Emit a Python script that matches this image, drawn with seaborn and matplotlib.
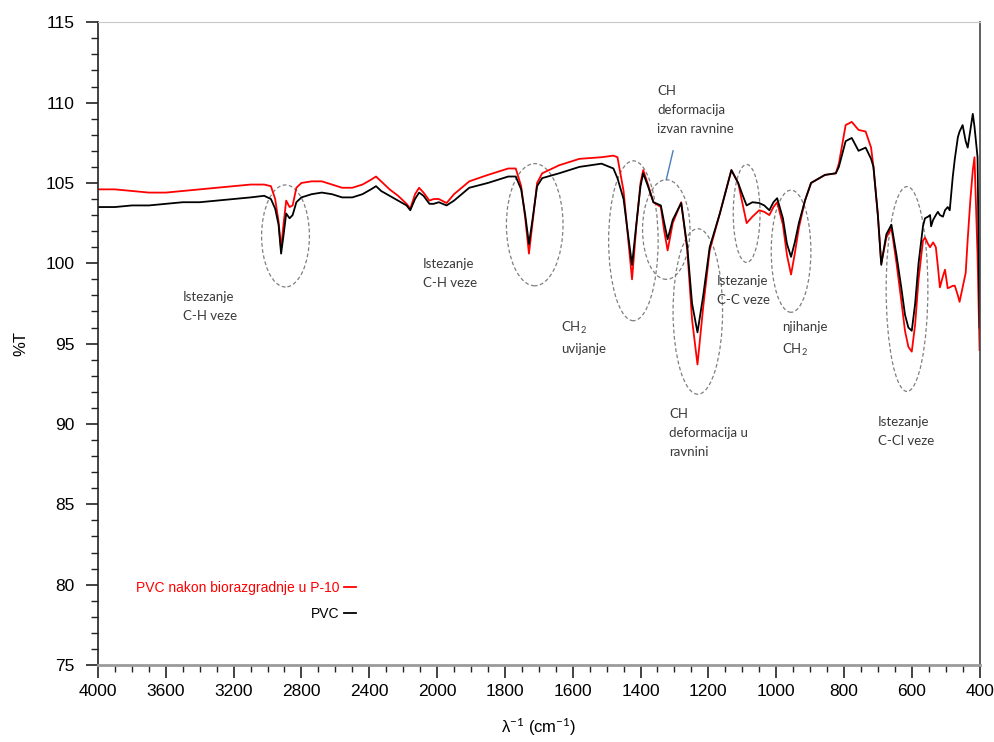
import numpy as np
import pandas as pd
import matplotlib
matplotlib.use('Agg')
import matplotlib.pyplot as plt
from matplotlib.patches import Ellipse
from matplotlib.ticker import FixedLocator
import seaborn as sb

# Data (wavenumber in cm-1, %T)
wavenumber = [4000, 3900, 3800, 3700, 3600, 3500, 3400, 3300, 3200, 3100, 3020, 2980,
              2955, 2935, 2920, 2905, 2890, 2870, 2852, 2830, 2800, 2740, 2680, 2620,
              2560, 2500, 2440, 2390, 2360, 2330, 2280, 2230, 2180, 2158, 2130, 2106,
              2080, 2045, 2020, 1995, 1972, 1950, 1905, 1850, 1790, 1768, 1752, 1740,
              1729, 1718, 1705, 1690, 1640, 1580, 1515, 1480, 1468, 1450, 1435, 1425,
              1412, 1400, 1392, 1378, 1362, 1340, 1330, 1320, 1305, 1280, 1262, 1248,
              1232, 1215, 1196, 1166, 1132, 1112, 1100, 1087, 1070, 1050, 1035, 1020,
              1008, 997, 980, 968, 956, 945, 933, 915, 897, 856, 824, 815,
              795, 777, 757, 736, 720, 713, 700, 690, 675, 660, 645, 631,
              620, 610, 600, 590, 580, 567, 561, 552, 546, 543, 537, 529,
              523, 517, 508, 502, 494, 488, 479, 473, 464, 459, 450, 441,
              435, 427, 420, 415, 406, 400]

pvc = [103.5, 103.5, 103.6, 103.6, 103.7, 103.8, 103.8, 103.9, 104.0, 104.1, 104.2, 104.0,
       103.4, 102.4, 100.6, 101.8, 103.1, 102.8, 103.0, 103.8, 104.1, 104.3, 104.4, 104.3,
       104.1, 104.1, 104.3, 104.6, 104.8, 104.5, 104.2, 103.9, 103.6, 103.3, 104.0, 104.4,
       104.2, 103.7, 103.7, 103.8, 103.6, 103.9, 104.7, 105.0, 105.4, 105.4, 104.6, 103.0,
       101.2, 102.8, 104.8, 105.3, 105.6, 106.0, 106.2, 105.9, 105.3, 104.0, 101.5, 99.9,
       102.5, 104.8, 105.6, 104.8, 103.8, 103.6, 102.5, 101.5, 102.7, 103.75, 101.0, 97.5,
       95.7, 98.0, 101.0, 103.1, 105.8, 105.0, 104.3, 103.6, 103.8, 103.75, 103.6, 103.3,
       103.8, 104.05, 102.8, 101.2, 100.4, 101.3, 102.5, 103.9, 105.0, 105.5, 105.6, 106.0,
       107.6, 107.8, 107.0, 107.2, 106.5, 106.0, 103.0, 99.9, 101.8, 102.4, 100.5, 98.5,
       96.8, 96.0, 95.8, 97.5, 100.0, 102.3, 102.8, 102.9, 103.0, 102.3, 102.7, 103.0,
       103.2, 103.0, 102.9, 103.3, 103.5, 103.3, 105.4, 106.5, 107.85, 108.2, 108.6, 107.6,
       107.2, 108.3, 109.3, 108.5, 106.6, 96.0]

pvc_p10 = [104.6, 104.6, 104.5, 104.4, 104.4, 104.5, 104.6, 104.7, 104.8, 104.9, 104.9, 104.8,
           104.0, 102.6, 100.9, 102.5, 103.9, 103.5, 103.6, 104.7, 105.0, 105.1, 105.1, 104.9,
           104.7, 104.7, 104.9, 105.2, 105.4, 105.1, 104.6, 104.2, 103.7, 103.4, 104.3, 104.7,
           104.4, 103.9, 104.0, 104.0, 103.75, 104.3, 105.1, 105.5, 105.9, 105.9, 104.8, 102.8,
           100.6, 102.6, 105.0, 105.6, 106.1, 106.5, 106.6, 106.7, 106.6, 104.5, 101.2, 99.0,
           102.4, 105.0, 105.8, 104.9, 103.8, 103.5, 102.0, 100.8, 102.5, 103.8, 100.8, 96.5,
           93.7, 97.3, 100.8, 103.1, 105.8, 105.0, 103.8, 102.5, 102.9, 103.3, 103.2, 103.0,
           103.5, 103.8, 102.4, 100.5, 99.3, 100.6, 102.2, 103.9, 105.0, 105.5, 105.6, 106.2,
           108.6, 108.8, 108.3, 108.2, 107.2, 106.0, 103.0, 100.0, 101.6, 102.2, 100.0, 97.7,
           95.8, 94.8, 94.5, 96.2, 99.0, 101.4, 101.6, 101.2, 101.0, 101.1, 101.3, 101.0,
           99.8, 98.5, 99.2, 99.6, 98.45, 98.5, 98.6, 98.6, 98.0, 97.6, 98.5, 99.4,
           101.5, 104.0, 105.8, 106.6, 100.5, 94.6]

series_names = ['PVC nakon biorazgradnje u P-10', 'PVC']
series_colors = ['#ff0000', '#000000']

# band annotations: (centre wn, centre %T, width cm-1, height %T)
ellipses = [(2894, 101.7, 282, 6.35),
            (1712, 102.4, 167, 7.6),
            (1421, 101.4, 146, 9.95),
            (1324, 102.1, 140, 6.2),
            (1231, 97.0, 146, 10.3),
            (1087, 103.1, 79, 6.1),
            (956, 100.75, 117, 7.6),
            (614, 98.4, 123, 12.75)]

labels = [(3500, 98.3, 'Istezanje\nC-H veze'),
          (2082, 100.3, 'Istezanje\nC-H veze'),
          (1634, 96.5, 'CH$_2$\nuvijanje'),
          (1351, 111.1, 'CH\ndeformacija\nizvan ravnine'),
          (1175, 99.3, 'Istezanje\nC-C veze'),
          (982, 96.4, 'njihanje\nCH$_2$'),
          (1316, 91.0, 'CH\ndeformacija u\nravnini'),
          (701, 90.5, 'Istezanje\nC-Cl veze')]

df = pd.concat([
    pd.DataFrame({'wn': wavenumber, 'T': pvc_p10, 'uzorak': series_names[0]}),
    pd.DataFrame({'wn': wavenumber, 'T': pvc, 'uzorak': series_names[1]}),
])

###########################################################
#  Plot                                                   #
###########################################################
plt.rcParams['font.family'] = ['Liberation Sans', 'DejaVu Sans']
plt.rcParams['mathtext.fontset'] = 'custom'
plt.rcParams['mathtext.rm'] = 'Lato'
plt.rcParams['mathtext.it'] = 'Lato:italic'


# FTIR style axis: 4000-2000 at half scale
def fwd(x):
    x = np.asarray(x, dtype=float)
    return np.where(x > 2000, 2000 + (x - 2000) / 2, x)


def inv(u):
    u = np.asarray(u, dtype=float)
    return np.where(u > 2000, 2000 + (u - 2000) * 2, u)


fig = plt.figure(figsize=(9.95, 7.42), dpi=100)
ax = fig.add_axes([0.0985, 0.1038, 0.886, 0.8662])
ax.set_xscale('function', functions=(fwd, inv))

sb.lineplot(data=df, x='wn', y='T', hue='uzorak', palette=series_colors,
            hue_order=series_names, linewidth=1.3, ax=ax, legend=True)

ax.set_xlim(4000, 400)
ax.set_ylim(75, 115)

major_x = [4000, 3600, 3200, 2800, 2400, 2000, 1800, 1600, 1400, 1200, 1000, 800, 600, 400]
minor_x = [v for v in range(3900, 2000, -100) if v % 400] + \
          [v for v in range(1950, 400, -50) if v % 200]
ax.xaxis.set_major_locator(FixedLocator(major_x))
ax.xaxis.set_minor_locator(FixedLocator(minor_x))
ax.set_yticks(range(75, 116, 5))
ax.yaxis.set_minor_locator(FixedLocator([v for v in range(75, 116) if v % 5]))
ax.xaxis.set_major_formatter(matplotlib.ticker.FuncFormatter(lambda v, p: f'{v:.0f}'))

ax.tick_params(axis='both', which='major', labelsize=12.5, length=9, width=1.2, color='#222222')
ax.tick_params(axis='both', which='minor', length=5, width=1.0, color='#222222')
ax.tick_params(axis='x', which='major', pad=5)
ax.tick_params(axis='y', which='major', pad=8)

ax.spines['left'].set_color('#222222')
ax.spines['left'].set_linewidth(1.2)
ax.spines['bottom'].set_color('#9a9a9a')
ax.spines['bottom'].set_linewidth(2.0)
ax.spines['top'].set_color('#c8c8c8')
ax.spines['top'].set_linewidth(0.8)
ax.spines['right'].set_color('#444444')
ax.spines['right'].set_linewidth(1.2)

ax.set_xlabel(r'λ$^{-1}$ (cm$^{-1}$)', fontsize=12, labelpad=12)
ax.set_ylabel('%T', fontsize=12, labelpad=12)

for cx, cy, w, h in ellipses:
    ax.add_patch(Ellipse((cx, cy), w, h, fill=False, edgecolor='#7f7f7f',
                         linewidth=0.9, linestyle=(0, (3, 2))))

for lx, ly, txt in labels:
    ax.text(lx, ly, txt, ha='left', va='top', fontsize=9.5, color='#3a3a3a',
            family=['Lato', 'DejaVu Sans'], linespacing=1.7)

# pointer for the out-of-plane label
ax.plot([1304, 1324], [107.0, 105.2], color='#4a7ebb', linewidth=1.0)

handles, _ = ax.get_legend_handles_labels()
ax.legend(handles, series_names, loc='center right', bbox_to_anchor=(0.301, 0.10),
          frameon=False, markerfirst=False, handlelength=0.9, handletextpad=0.3,
          labelspacing=0.85, borderpad=0, fontsize=10, labelcolor=series_colors)

plt.savefig('out.png', dpi=100)
